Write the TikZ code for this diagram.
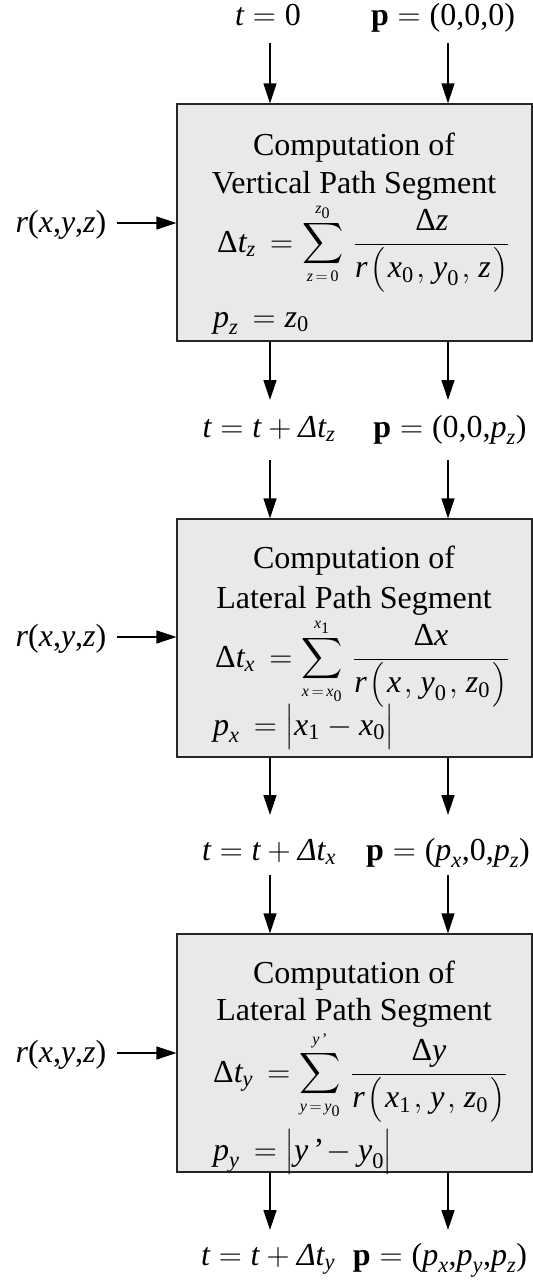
\RequirePackage{fix-cm}
\documentclass[tikz,border=0pt]{standalone}
\usepackage{amsmath}
\usepackage{graphicx}
\usepackage{fontspec}
\setmainfont{Liberation Serif}
\usetikzlibrary{arrows.meta}
\newcommand{\iv}[1]{\textit{#1}}
\newcommand{\tu}[1]{\textup{#1}}
\newcommand{\bp}{\textbf{p}}
\newcommand{\bsum}{\mathop{\vcenter{\hbox{\scalebox{1.15}{$\displaystyle\sum$}}}}\limits}
\newcommand{\gp}{\mkern1.5mu}
\tikzset{
  arr/.style={line width=1.3pt, -{Triangle[length=20pt,width=13pt]}},
  blk/.style={draw=black!85, line width=1.3pt, fill=black!8.5, minimum width=355pt, inner sep=0pt},
  lbl/.style={font=\fontsize{32}{38}\selectfont, inner sep=0pt, anchor=base},
  lblw/.style={lbl, anchor=base west},
}
\begin{document}
\begin{tikzpicture}[x=1pt,y=-1pt]
\useasboundingbox (0,0) rectangle (533,1283);
% boxes
\node[blk, minimum height=237pt] (b1) at (354.5,222.5) {};
\node[blk, minimum height=238pt] (b2) at (354.5,638) {};
\node[blk, minimum height=238pt] (b3) at (354.5,1053) {};
% box 1 content
\node[lbl] (c1) at (354,155) {Computation of};
\node[lbl] (v1) at (354,193) {Vertical Path Segment};
\node[lblw] (f1) at (217,252) {$\displaystyle \tu{Δ}\iv{t}_{\iv{z}}\,=\bsum_{\scriptscriptstyle\iv{z}\,=\,\tu{0}}^{\scriptscriptstyle\iv{z}_{\tu{0}}}\mkern3mu\frac{\tu{Δ}\iv{z}}{\iv{r}\gp\bigl(\gp\iv{x}_{\tu{0}}\gp,\gp\iv{y}_{\tu{0}}\gp,\gp\iv{z}\gp\bigr)}$};
\node[lblw] (q1) at (213,327) {$\iv{p}_{\iv{z}}\,=\iv{z}_{\tu{0}}$};
% box 2 content
\node[lbl] (c2) at (354,568) {Computation of};
\node[lbl] (v2) at (354,608) {Lateral Path Segment};
\node[lblw] (f2) at (215,667) {$\displaystyle \tu{Δ}\iv{t}_{\iv{x}}\,=\bsum_{\scriptscriptstyle\iv{x}\,=\,\iv{x}_{\tu{0}}}^{\scriptscriptstyle\iv{x}_{\tu{1}}}\mkern3mu\frac{\tu{Δ}\iv{x}}{\iv{r}\gp\bigl(\gp\iv{x}\gp,\gp\iv{y}_{\tu{0}}\gp,\gp\iv{z}_{\tu{0}}\gp\bigr)}$};
\node[lblw] (q2) at (213,735) {$\iv{p}_{\iv{x}}\,=\bigl|\iv{x}_{\tu{1}}-\iv{x}_{\tu{0}}\bigr|$};
% box 3 content
\node[lbl] (c3) at (354,983) {Computation of};
\node[lbl] (v3) at (354,1020) {Lateral Path Segment};
\node[lblw] (f3) at (213,1082) {$\displaystyle \tu{Δ}\iv{t}_{\iv{y}}\,=\bsum_{\scriptscriptstyle\iv{y}\,=\,\iv{y}_{\tu{0}}}^{\scriptscriptstyle\iv{y}\,\tu{'}}\mkern3mu\frac{\tu{Δ}\iv{y}}{\iv{r}\gp\bigl(\gp\iv{x}_{\tu{1}}\gp,\gp\iv{y}\gp,\gp\iv{z}_{\tu{0}}\gp\bigr)}$};
\node[lblw] (q3) at (213,1160) {$\iv{p}_{\iv{y}}\,=\bigl|\iv{y}\,\tu{'}\!-\iv{y}_{\tu{0}}\bigr|$};
% flow labels
\node[lbl] (t0) at (268,25) {$\iv{t}=\tu{0}$};
\node[lbl] (p0) at (443,25) {$\bp=\tu{(0,0,0)}$};
\node[lbl] (t1) at (269,437) {$\iv{t}=\iv{t}+\iv{Δt}_{\iv{z}}$};
\node[lbl] (p1) at (450,437) {$\bp=\tu{(0,0,}\iv{p}_{\iv{z}}\tu{)}$};
\node[lbl] (t2) at (269,860) {$\iv{t}=\iv{t}+\iv{Δt}_{\iv{x}}$};
\node[lbl] (p2) at (448,860) {$\bp=\tu{(}\iv{p}_{\iv{x}}\tu{,0,}\iv{p}_{\iv{z}}\tu{)}$};
\node[lbl] (t3) at (268,1265) {$\iv{t}=\iv{t}+\iv{Δt}_{\iv{y}}$};
\node[lbl] (p3) at (440,1265) {$\bp=\tu{(}\iv{p}_{\iv{x}}\tu{,}\iv{p}_{\iv{y}}\tu{,}\iv{p}_{\iv{z}}\tu{)}$};
% r labels
\node[lbl] (r1) at (61,232) {\iv{r}(\iv{x},\iv{y},\iv{z})};
\node[lbl] (r2) at (61,646) {\iv{r}(\iv{x},\iv{y},\iv{z})};
\node[lbl] (r3) at (61,1062) {\iv{r}(\iv{x},\iv{y},\iv{z})};
\draw[arr] ([xshift=10pt]r1.east |- 0,223) -- (b1.west |- 0,223);
\draw[arr] ([xshift=10pt]r2.east |- 0,637) -- (b2.west |- 0,637);
\draw[arr] ([xshift=10pt]r3.east |- 0,1053) -- (b3.west |- 0,1053);
% column coordinates
\coordinate (L) at (270,0);
\coordinate (R) at (448,0);
\coordinate (e0L) at (270,43); \coordinate (e0R) at (448,43);
\coordinate (e1L) at (270,400); \coordinate (e1R) at (448,400);
\coordinate (s1L) at (270,460); \coordinate (s1R) at (448,460);
\coordinate (e2L) at (270,815); \coordinate (e2R) at (448,815);
\coordinate (s2L) at (270,875); \coordinate (s2R) at (448,875);
\coordinate (e3L) at (270,1230); \coordinate (e3R) at (448,1230);
\draw[arr] (e0L) -- (L |- b1.north);
\draw[arr] (e0R) -- (R |- b1.north);
\draw[arr] (L |- b1.south) -- (e1L);
\draw[arr] (R |- b1.south) -- (e1R);
\draw[arr] (s1L) -- (L |- b2.north);
\draw[arr] (s1R) -- (R |- b2.north);
\draw[arr] (L |- b2.south) -- (e2L);
\draw[arr] (R |- b2.south) -- (e2R);
\draw[arr] (s2L) -- (L |- b3.north);
\draw[arr] (s2R) -- (R |- b3.north);
\draw[arr] (L |- b3.south) -- (e3L);
\draw[arr] (R |- b3.south) -- (e3R);
\end{tikzpicture}
\end{document}
